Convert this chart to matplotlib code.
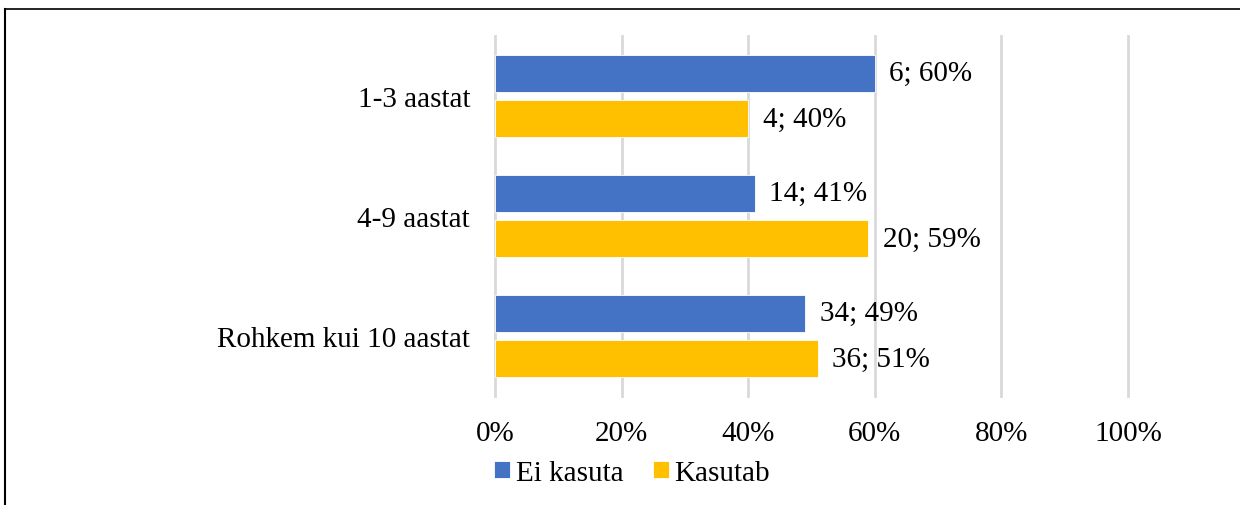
import numpy as np
import matplotlib.pyplot as plt
from matplotlib.lines import Line2D
from matplotlib.ticker import FuncFormatter

plt.rcParams['font.family'] = ['Liberation Serif', 'DejaVu Serif']

categories = ["1-3 aastat", "4-9 aastat", "Rohkem kui 10 aastat"]
series = ["Ei kasuta", "Kasutab"]
counts_ei = [6, 14, 34]
counts_kas = [4, 20, 36]
pct_ei = [60, 41, 49]
pct_kas = [40, 59, 51]
colors = ["#4472C4", "#FFC000"]

fig = plt.figure(figsize=(12.4, 5.06), dpi=100)
ax = fig.add_axes([495 / 1240, 1 - 397 / 506, 633 / 1240, 360 / 506])

y = np.arange(len(categories))
h = 0.31
off = 0.19
ax.barh(y - off, pct_ei, height=h, color=colors[0], edgecolor="white",
        linewidth=0.6, label=series[0], zorder=3)
ax.barh(y + off, pct_kas, height=h, color=colors[1], edgecolor="white",
        linewidth=0.6, label=series[1], zorder=3)

for yi, c, p in zip(y, counts_ei, pct_ei):
    ax.text(p + 2.3, yi - off, f"{c}; {p}%", va="center", ha="left", fontsize=21)
for yi, c, p in zip(y, counts_kas, pct_kas):
    ax.text(p + 2.3, yi + off, f"{c}; {p}%", va="center", ha="left", fontsize=21)

ax.set_xlim(0, 100)
ax.set_ylim(len(categories) - 0.5, -0.5)
ax.set_xticks(range(0, 101, 20))
ax.xaxis.set_major_formatter(FuncFormatter(lambda v, _: f"{v:.0f}%"))
ax.set_yticks(y)
ax.set_yticklabels(categories)
ax.tick_params(axis="both", length=0, labelsize=21)
ax.tick_params(axis="x", pad=17)
ax.tick_params(axis="y", pad=18)
ax.grid(axis="x", color="#D9D9D9", linewidth=2, zorder=0)
for gl in ax.get_xgridlines():
    gl.set_clip_on(False)
for s in ax.spines.values():
    s.set_visible(False)

fig.legend(loc="center", bbox_to_anchor=(632 / 1240, 1 - 474 / 506), ncol=2,
           frameon=False, fontsize=21, handlelength=0.55, handleheight=0.55,
           handletextpad=0.2, columnspacing=1.0, borderpad=0)

fig.add_artist(Line2D([5 / 1240, 5 / 1240], [0, 1 - 10 / 506], color="black",
                      linewidth=1.5, transform=fig.transFigure))
fig.add_artist(Line2D([5 / 1240, 1], [1 - 10 / 506, 1 - 10 / 506], color="black",
                      linewidth=1.2, transform=fig.transFigure))

fig.savefig("out.png", dpi=100)
